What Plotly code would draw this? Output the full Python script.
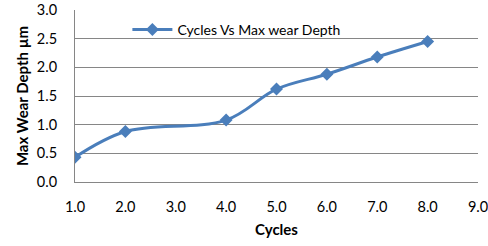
import plotly.graph_objects as go

cycles = [1.0, 2.0, 4.0, 5.0, 6.0, 7.0, 8.0]
wear_depth = [0.43, 0.88, 1.08, 1.62, 1.88, 2.18, 2.45]
x_ticks = [1, 2, 3, 4, 5, 6, 7, 8, 9]
y_ticks = [0, 0.5, 1.0, 1.5, 2.0, 2.5, 3.0]

blue = "#4A7EBB"
font_fam = "Lato, Carlito, Calibri, sans-serif"

fig = go.Figure()
fig.add_trace(go.Scatter(
    x=cycles, y=wear_depth, mode="lines+markers",
    name="Cycles Vs Max wear Depth",
    line=dict(color=blue, width=3, shape="spline", smoothing=1.0),
    marker=dict(symbol="diamond", size=10, color=blue),
))

fig.update_layout(
    width=488, height=246,
    margin=dict(l=75, r=10, t=10, b=64, autoexpand=False),
    paper_bgcolor="white", plot_bgcolor="white",
    font=dict(family=font_fam, color="#000000"),
    showlegend=True,
    legend=dict(x=0.13, y=0.885, xanchor="left", yanchor="middle",
                bgcolor="rgba(0,0,0,0)", font=dict(size=14, family=font_fam),
                itemwidth=40, tracegroupgap=0),
    xaxis=dict(range=[1, 9], tickvals=x_ticks, ticktext=[f"{v:.1f}" for v in x_ticks],
               showgrid=False, showline=True, linecolor="#868686", linewidth=1,
               ticks="", ticklabelstandoff=12, ticklabeloverflow="allow", automargin=False,
               tickfont=dict(size=14.5, family=font_fam),
               title=dict(text="<b>Cycles</b>", font=dict(size=15), standoff=10),
               zeroline=False),
    yaxis=dict(range=[0, 3.0], tickvals=y_ticks, ticktext=[f"{v:.1f}" for v in y_ticks],
               showgrid=True, gridcolor="#868686", gridwidth=1,
               showline=True, linecolor="#868686", linewidth=1,
               ticks="", ticklabelstandoff=14, ticklabeloverflow="allow", automargin=False,
               tickfont=dict(size=14.5, family=font_fam),
               title=dict(text="<b>Max Wear Depth µm</b>", font=dict(size=15), standoff=4),
               zeroline=False),
)

fig.write_html("out.html")
